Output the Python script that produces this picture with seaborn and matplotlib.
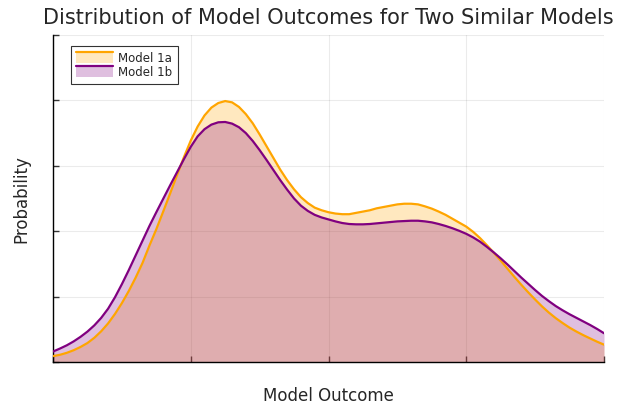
import numpy as np
import pandas as pd
import matplotlib
matplotlib.use("Agg")
import matplotlib.pyplot as plt
import seaborn as sns
from matplotlib.patches import Rectangle
from matplotlib.lines import Line2D
from matplotlib.legend_handler import HandlerBase

x_vals = [0.00, 0.05, 0.10, 0.15, 0.20, 0.25, 0.30, 0.35, 0.40, 0.45,
          0.50, 0.55, 0.60, 0.65, 0.70, 0.75, 0.80, 0.85, 0.90, 0.95,
          1.00, 1.05, 1.10, 1.15, 1.20, 1.25, 1.30, 1.35, 1.40, 1.45,
          1.50, 1.55, 1.60, 1.65, 1.70, 1.75, 1.80, 1.85, 1.90, 1.95,
          2.00, 2.05, 2.10, 2.15, 2.20, 2.25, 2.30, 2.35, 2.40, 2.45,
          2.50, 2.55, 2.60, 2.65, 2.70, 2.75, 2.80, 2.85, 2.90, 2.95,
          3.00, 3.05, 3.10, 3.15, 3.20, 3.25, 3.30, 3.35, 3.40, 3.45,
          3.50, 3.55, 3.60, 3.65, 3.70, 3.75, 3.80, 3.85, 3.90, 3.95,
          4.00]
model_1a = [0.09, 0.11, 0.14, 0.18, 0.23, 0.29, 0.37, 0.47, 0.59, 0.735,
            0.90, 1.085, 1.29, 1.515, 1.78, 2.03, 2.30, 2.575, 2.855, 3.13,
            3.385, 3.60, 3.77, 3.89, 3.96, 3.99, 3.97, 3.90, 3.79, 3.65,
            3.48, 3.30, 3.12, 2.94, 2.78, 2.64, 2.52, 2.43, 2.36, 2.32,
            2.29, 2.27, 2.26, 2.26, 2.28, 2.30, 2.32, 2.35, 2.37, 2.39,
            2.41, 2.42, 2.42, 2.41, 2.38, 2.345, 2.30, 2.25, 2.19, 2.13,
            2.07, 1.99, 1.895, 1.785, 1.67, 1.55, 1.425, 1.30, 1.18, 1.065,
            0.955, 0.85, 0.755, 0.67, 0.595, 0.525, 0.465, 0.41, 0.36, 0.31,
            0.265]
model_1b = [0.16, 0.205, 0.255, 0.315, 0.385, 0.465, 0.56, 0.675, 0.815, 0.99,
            1.19, 1.405, 1.63, 1.855, 2.08, 2.29, 2.495, 2.70, 2.90, 3.10,
            3.29, 3.45, 3.56, 3.63, 3.665, 3.67, 3.645, 3.59, 3.50, 3.38,
            3.24, 3.09, 2.935, 2.78, 2.635, 2.50, 2.39, 2.31, 2.25, 2.21,
            2.18, 2.15, 2.125, 2.11, 2.105, 2.105, 2.11, 2.12, 2.13, 2.14,
            2.15, 2.155, 2.16, 2.16, 2.15, 2.135, 2.11, 2.08, 2.045, 2.005,
            1.96, 1.905, 1.84, 1.76, 1.675, 1.585, 1.49, 1.39, 1.29, 1.195,
            1.10, 1.01, 0.93, 0.855, 0.79, 0.73, 0.675, 0.62, 0.565, 0.505,
            0.44]
labels = ["Model 1a", "Model 1b"]
colors = ["#FFA500", "#800080"]


class LineOverPatch(HandlerBase):
    def create_artists(self, legend, orig_handle, xdescent, ydescent,
                       width, height, fontsize, trans):
        col = orig_handle.get_color()
        rect = Rectangle((-xdescent, -ydescent), width, height,
                         facecolor=col, alpha=0.25, linewidth=0, transform=trans)
        line = Line2D([-xdescent, -xdescent + width],
                      [-ydescent + height, -ydescent + height],
                      color=col, linewidth=1.6, transform=trans)
        return [rect, line]


sns.set_style("white")
fig = plt.figure(figsize=(6.26, 4.06), dpi=100)
ax = fig.add_axes([53/626, 43/406, (604-53)/626, (363-36)/406])

df = pd.DataFrame({"x": x_vals, "Model 1a": model_1a, "Model 1b": model_1b})
for lab, col in zip(labels, colors):
    ax.fill_between(df["x"], 0, df[lab], color=col, alpha=0.25, linewidth=0, zorder=2)
    sns.lineplot(data=df, x="x", y=lab, color=col, linewidth=1.6, ax=ax, zorder=3)

ax.set_xlim(0, 4)
ax.set_ylim(0, 5)
ax.set_xticks([0, 1, 2, 3, 4])
ax.set_yticks([0, 1, 2, 3, 4, 5])
ax.set_xticklabels([])
ax.set_yticklabels([])
ax.grid(True, color="#000000", alpha=0.08, linewidth=0.8)
ax.set_axisbelow(True)
for s in ["top", "right"]:
    ax.spines[s].set_visible(False)
for s in ["left", "bottom"]:
    ax.spines[s].set_color("black")
    ax.spines[s].set_linewidth(1.0)
ax.tick_params(axis="both", direction="in", length=4, width=1, color="#333333",
               left=True, bottom=True)

ax.set_xlabel("Model Outcome", fontsize=12, labelpad=14)
ax.set_ylabel("Probability", fontsize=12, labelpad=13)
ax.set_title("Distribution of Model Outcomes for Two Similar Models", fontsize=15, pad=9)

handles = [Line2D([], [], color=c) for c in colors]
leg = ax.legend(handles, labels, loc="upper left", bbox_to_anchor=(18/551, 1 - 11/327),
                borderaxespad=0, fontsize=8.5, frameon=True, fancybox=False,
                edgecolor="black", handler_map={Line2D: LineOverPatch()},
                handlelength=3.1, handleheight=1.0, handletextpad=0.45,
                labelspacing=0.1, borderpad=0.45)
leg.get_frame().set_linewidth(0.8)

fig.savefig("out.png", dpi=100)
